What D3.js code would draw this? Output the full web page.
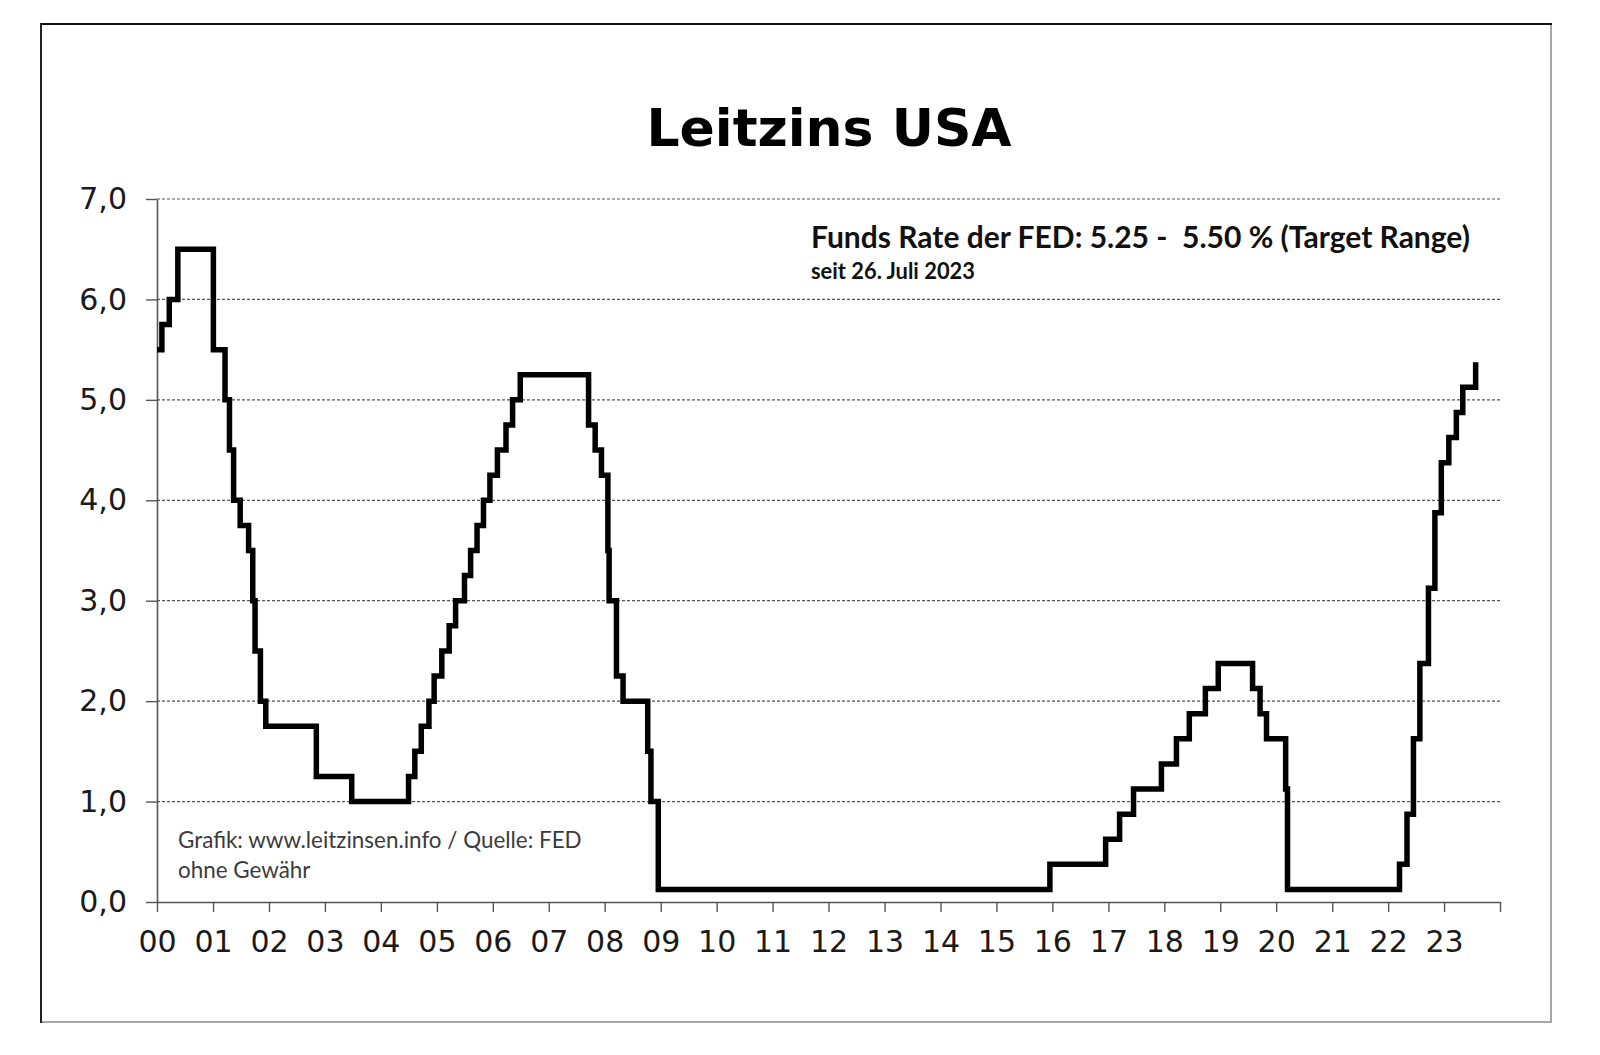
<!DOCTYPE html>
<html>
<head>
<meta charset="utf-8">
<script src="https://cdn.jsdelivr.net/npm/d3@7"></script>
<style>
  html, body { margin: 0; padding: 0; background: #fff; }
  svg { display: block; }
</style>
</head>
<body>
<svg id="chart" width="1600" height="1055"></svg>
<script>
// ---- Data (Fed funds target rate, step changes; mid of target range) ----
const changeDates = [
  "2000-01-01","2000-02-02","2000-03-21","2000-05-16",
  "2001-01-03","2001-03-20","2001-04-18","2001-05-15","2001-06-27","2001-08-21","2001-09-17","2001-10-02","2001-11-06","2001-12-11",
  "2002-11-06","2003-06-25",
  "2004-06-30","2004-08-10","2004-09-21","2004-11-10","2004-12-14",
  "2005-02-02","2005-03-22","2005-05-03","2005-06-30","2005-08-09","2005-09-20","2005-11-01","2005-12-13",
  "2006-01-31","2006-03-28","2006-05-10","2006-06-29",
  "2007-09-18","2007-10-31","2007-12-11",
  "2008-01-22","2008-01-30","2008-03-18","2008-04-30","2008-10-08","2008-10-29","2008-12-16",
  "2015-12-16","2016-12-14",
  "2017-03-15","2017-06-14","2017-12-13",
  "2018-03-21","2018-06-13","2018-09-26","2018-12-19",
  "2019-07-31","2019-09-18","2019-10-30",
  "2020-03-03","2020-03-15",
  "2022-03-16","2022-05-04","2022-06-15","2022-07-27","2022-09-21","2022-11-02","2022-12-14",
  "2023-02-01","2023-03-22","2023-05-03","2023-07-26"
];
const rates = [
  5.50, 5.75, 6.00, 6.50,
  5.50, 5.00, 4.50, 4.00, 3.75, 3.50, 3.00, 2.50, 2.00, 1.75,
  1.25, 1.00,
  1.25, 1.50, 1.75, 2.00, 2.25,
  2.50, 2.75, 3.00, 3.25, 3.50, 3.75, 4.00, 4.25,
  4.50, 4.75, 5.00, 5.25,
  4.75, 4.50, 4.25,
  3.50, 3.00, 2.25, 2.00, 1.50, 1.00, 0.125,
  0.375, 0.625,
  0.875, 1.125, 1.375,
  1.625, 1.875, 2.125, 2.375,
  2.125, 1.875, 1.625,
  1.125, 0.125,
  0.375, 0.875, 1.625, 2.375, 3.125, 3.875, 4.375,
  4.625, 4.875, 5.125, 5.375
];
const yTickValues = [0, 1, 2, 3, 4, 5, 6, 7];
const xTickYears = d3.range(2000, 2025);
const xTickLabels = ["00","01","02","03","04","05","06","07","08","09","10","11",
                     "12","13","14","15","16","17","18","19","20","21","22","23"];

const titleText = "Leitzins USA";
const noteLine1 = "Funds Rate der FED: 5.25 -  5.50 % (Target Range)";
const noteLine2 = "seit 26. Juli 2023";
const sourceLine1 = "Grafik: www.leitzinsen.info / Quelle: FED";
const sourceLine2 = "ohne Gewähr";

// ---- Layout ----
const svg = d3.select("#chart");
const parse = d3.timeParse("%Y-%m-%d");
const series = changeDates.map((d, i) => ({ date: parse(d), value: rates[i] }));

const x = d3.scaleTime()
  .domain([new Date(2000, 0, 1), new Date(2024, 0, 1)])
  .range([157, 1500]);
const y = d3.scaleLinear().domain([0, 7]).range([902, 199]);

// Frame
svg.append("rect").attr("x", 0).attr("y", 0).attr("width", 1600).attr("height", 1055).attr("fill", "#fff");
svg.append("rect")
  .attr("x", 41).attr("y", 24).attr("width", 1510).attr("height", 998)
  .attr("fill", "#fff").attr("stroke", "#a6a6a6").attr("stroke-width", 2);
svg.append("line").attr("x1", 40).attr("x2", 1552).attr("y1", 24).attr("y2", 24)
  .attr("stroke", "#111").attr("stroke-width", 2);
svg.append("line").attr("x1", 41).attr("x2", 41).attr("y1", 23).attr("y2", 1023)
  .attr("stroke", "#222").attr("stroke-width", 2);

// Title
svg.append("text")
  .attr("x", 829).attr("y", 146)
  .attr("text-anchor", "middle")
  .attr("font-family", "DejaVu Sans, Verdana, sans-serif")
  .attr("font-weight", "bold")
  .attr("font-size", 52)
  .attr("fill", "#000")
  .text(titleText);

// Gridlines
svg.append("g").selectAll("line")
  .data(yTickValues.filter(v => v > 0))
  .join("line")
  .attr("x1", 157).attr("x2", 1500)
  .attr("y1", d => y(d)).attr("y2", d => y(d))
  .attr("stroke", "#555").attr("stroke-width", 1.2)
  .attr("stroke-dasharray", "3,2");

// Y axis
const yAxis = d3.axisLeft(y)
  .tickValues(yTickValues)
  .tickSize(11).tickSizeOuter(0).tickPadding(19)
  .tickFormat(d => d3.format(".1f")(d).replace(".", ","));
const gy = svg.append("g").attr("transform", "translate(157,0)").call(yAxis);
gy.selectAll(".domain").attr("stroke", "#555").attr("stroke-width", 1.6);
gy.selectAll(".tick line").attr("stroke", "#555").attr("stroke-width", 1.4);
gy.selectAll(".tick text")
  .attr("font-family", "DejaVu Sans, Verdana, sans-serif")
  .attr("font-size", 30).attr("fill", "#1a1a1a");

// X axis
const xAxis = d3.axisBottom(x)
  .tickValues(xTickYears.map(yr => new Date(yr, 0, 1)))
  .tickSize(10).tickSizeOuter(0).tickPadding(19)
  .tickFormat((d, i) => xTickLabels[i] || "");
const gx = svg.append("g").attr("transform", "translate(0,902)").call(xAxis);
gx.selectAll(".domain").attr("stroke", "#555").attr("stroke-width", 1.6);
gx.selectAll(".tick line").attr("stroke", "#555").attr("stroke-width", 1.4);
gx.selectAll(".tick text")
  .attr("font-family", "DejaVu Sans, Verdana, sans-serif")
  .attr("font-size", 30).attr("fill", "#1a1a1a");

// Rate line
const line = d3.line()
  .x(d => x(d.date))
  .y(d => y(d.value))
  .curve(d3.curveStepAfter);
svg.append("path")
  .datum(series)
  .attr("d", line)
  .attr("fill", "none")
  .attr("stroke", "#000")
  .attr("stroke-width", 5.5)
  .attr("stroke-linejoin", "miter")
  .attr("stroke-linecap", "butt");

// Text fitting helper
function fitText(sel, targetWidth) {
  const w = sel.node().getComputedTextLength();
  const fs = parseFloat(sel.attr("font-size"));
  if (w > 0) sel.attr("font-size", (fs * targetWidth / w).toFixed(2));
}
const noteFont = "Lato, 'Open Sans', sans-serif";

const n1 = svg.append("text")
  .attr("x", 811).attr("y", 248)
  .attr("font-family", noteFont).attr("font-weight", "bold")
  .attr("font-size", 28).attr("fill", "#111")
  .style("white-space", "pre")
  .text(noteLine1);
fitText(n1, 659);

const n2 = svg.append("text")
  .attr("x", 811).attr("y", 279)
  .attr("font-family", noteFont).attr("font-weight", "bold")
  .attr("font-size", 20).attr("fill", "#111")
  .text(noteLine2);
fitText(n2, 164);

const s1 = svg.append("text")
  .attr("x", 178).attr("y", 848)
  .attr("font-family", noteFont)
  .attr("font-size", 22).attr("fill", "#3b3b3b")
  .text(sourceLine1);
fitText(s1, 404);

svg.append("text")
  .attr("x", 178).attr("y", 878)
  .attr("font-family", noteFont)
  .attr("font-size", s1.attr("font-size")).attr("fill", "#3b3b3b")
  .text(sourceLine2);
</script>
</body>
</html>
